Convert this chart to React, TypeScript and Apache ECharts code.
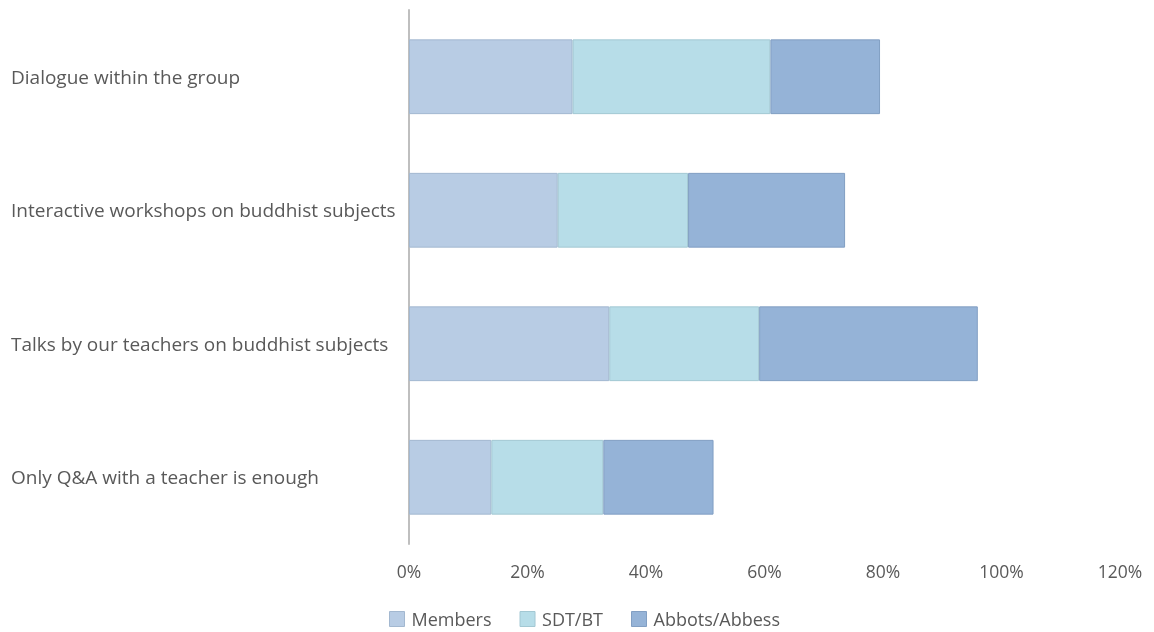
import React, { useEffect, useRef } from "react";
import * as echarts from "echarts";

const categories = [
  "Dialogue within the group",
  "Interactive workshops on buddhist subjects",
  "Talks by our teachers on buddhist subjects",
  "Only Q&A with a teacher is enough",
];
const seriesNames = ["Members", "SDT/BT", "Abbots/Abbess"];
const members = [27.6, 25.1, 33.8, 13.9];
const sdtBt = [33.4, 22.0, 25.3, 18.9];
const abbots = [18.5, 26.5, 36.9, 18.6];
const colors = ["#b8cce4", "#b7dde8", "#95b3d7"];
const borders = ["#a3b8d0", "#a3c8d3", "#829fc3"];

const FONT = "'Open Sans', sans-serif";
const TEXT = "#595959";

export default function App() {
  const ref = useRef<HTMLDivElement>(null);
  useEffect(() => {
    if (!ref.current) return;
    const chart = echarts.init(ref.current, undefined, { renderer: "svg" });
    const values = [members, sdtBt, abbots];
    chart.setOption({
      animation: false,
      textStyle: { fontFamily: FONT },
      grid: { left: 409, right: 34, top: 10, bottom: 88, containLabel: false },
      legend: {
        top: 610,
        left: 389,
        padding: 0,
        itemWidth: 15,
        itemHeight: 15,
        itemGap: 28,
        icon: "rect",
        itemStyle: { borderWidth: 1 },
        textStyle: { fontFamily: FONT, fontSize: 18, color: TEXT, padding: [0, 0, 0, 2] },
        data: seriesNames,
      },
      xAxis: {
        type: "value",
        min: 0,
        max: 120,
        interval: 20,
        axisLine: { show: false },
        axisTick: { show: false },
        splitLine: { show: false },
        axisLabel: {
          formatter: "{value}%",
          margin: 18,
          fontFamily: FONT,
          fontSize: 17.5,
          color: TEXT,
        },
      },
      yAxis: {
        type: "category",
        inverse: true,
        data: categories,
        axisLine: { show: true, lineStyle: { color: "#bfbfbf", width: 2 } },
        axisTick: { show: false },
        axisLabel: {
          align: "left",
          margin: 398,
          fontFamily: FONT,
          fontSize: 19,
          color: TEXT,
        },
      },
      series: seriesNames.map((name, i) => ({
        name,
        type: "bar",
        stack: "total",
        data: values[i],
        barWidth: "56%",
        itemStyle: { color: colors[i], borderColor: borders[i], borderWidth: 1 },
      })),
    });
    return () => chart.dispose();
  }, []);
  return (
    <div
      ref={ref}
      style={{ position: "fixed", left: 0, top: 0, width: 1154, height: 632 }}
    />
  );
}
